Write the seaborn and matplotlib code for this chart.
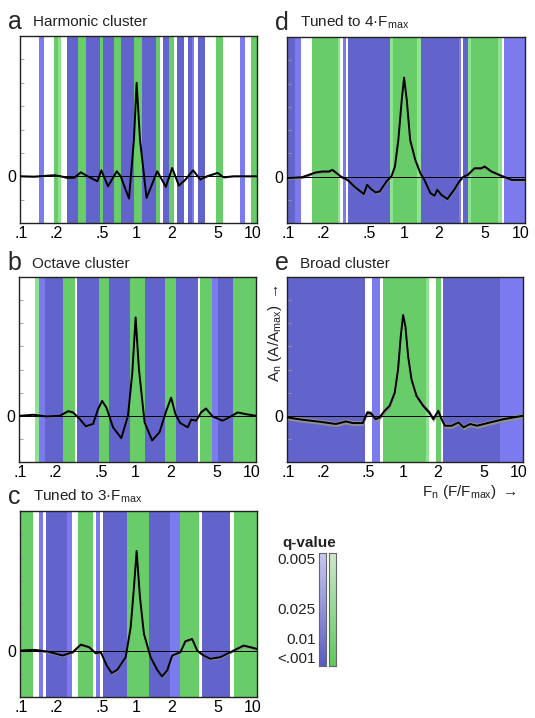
import numpy as np
import pandas as pd
import matplotlib
matplotlib.use("Agg")
import matplotlib.pyplot as plt
import seaborn as sns

# ---- data ----
# curves: frequency (F/Fmax) and normalised amplitude
a_freq = [0.1, 0.130, 0.194, 0.221, 0.252, 0.288, 0.329, 0.363, 0.401, 0.458, 0.495, 0.566,
          0.673, 0.728, 0.859, 0.948, 1.0, 1.069, 1.219, 1.507, 1.79, 2.03, 2.32, 2.64,
          3.08, 3.56, 4.06, 5.02, 5.66, 6.90, 11.0]
a_amp = [0.0, -0.003, 0.009, 0.0, -0.014, -0.014, 0.034, 0.009, -0.014, -0.043, 0.051, -0.086,
         0.043, 0.0, -0.191, 0.314, 0.80, 0.314, -0.186, 0.043, -0.091, 0.071, -0.08, -0.029,
         0.051, -0.029, 0.0, 0.029, -0.009, 0.0, 0.0]

b_freq = [0.1, 0.130, 0.170, 0.221, 0.261, 0.288, 0.329, 0.371, 0.429, 0.473, 0.513, 0.559,
          0.638, 0.752, 0.859, 0.936, 1.0, 1.069, 1.196, 1.392, 1.61, 1.84, 2.03, 2.21,
          2.43, 2.83, 3.02, 3.34, 3.68, 4.06, 4.64, 5.66, 6.46, 7.62, 9.0, 11.0]
b_amp = [0.0, 0.009, -0.006, 0.0, 0.04, 0.029, -0.029, -0.091, -0.071, 0.057, 0.129, 0.071,
         -0.1, -0.194, 0.0, 0.371, 0.851, 0.4, -0.057, -0.214, -0.143, 0.043, 0.157, 0.014,
         -0.063, -0.1, -0.034, -0.043, 0.029, 0.063, -0.006, -0.043, -0.014, 0.029, 0.014, 0.0]

c_freq = [0.1, 0.130, 0.170, 0.229, 0.279, 0.329, 0.388, 0.443, 0.490, 0.551, 0.609, 0.681,
          0.804, 0.888, 0.948, 1.0, 1.069, 1.157, 1.32, 1.507, 1.66, 1.84, 2.03, 2.39,
          2.64, 3.02, 3.34, 3.80, 4.34, 5.30, 6.90, 8.42, 9.6, 11.0]
c_amp = [0.0, 0.006, -0.009, -0.043, -0.014, 0.051, 0.029, -0.023, -0.014, -0.129, -0.194, -0.166,
         -0.057, 0.2, 0.543, 0.857, 0.457, 0.143, -0.057, -0.166, -0.223, -0.171, -0.043, -0.014,
         0.08, 0.1, 0.0, -0.043, -0.071, -0.057, 0.0, 0.043, 0.029, 0.014]

d_freq = [0.098, 0.132, 0.172, 0.197, 0.225, 0.241, 0.267, 0.285, 0.326, 0.373, 0.450, 0.481,
          0.521, 0.569, 0.617, 0.705, 0.780, 0.834, 0.892, 0.954, 1.0, 1.055, 1.128, 1.248,
          1.380, 1.496, 1.687, 1.83, 1.93, 2.09, 2.36, 2.70, 2.99, 3.19, 3.53, 4.04, 4.62,
          4.94, 5.65, 6.91, 8.45, 11.0]
d_amp = [-0.014, -0.006, 0.034, 0.043, 0.043, 0.057, 0.023, 0.0, -0.029, -0.086, -0.151, -0.071,
         -0.109, -0.137, -0.129, -0.043, 0.006, 0.086, 0.314, 0.657, 0.851, 0.657, 0.314, 0.143,
         0.029, -0.029, -0.143, -0.166, -0.114, -0.157, -0.194, -0.114, -0.043, -0.006, 0.014,
         0.071, 0.071, 0.086, 0.043, 0.006, -0.029, -0.029]

e_freq = [0.098, 0.133, 0.187, 0.261, 0.319, 0.365, 0.447, 0.488, 0.529, 0.577, 0.625, 0.691,
          0.764, 0.846, 0.904, 0.954, 1.0, 1.048, 1.106, 1.183, 1.308, 1.496, 1.687, 1.83,
          2.02, 2.16, 2.31, 2.65, 3.03, 3.35, 3.83, 4.38, 5.73, 7.49, 11.0]
e_amp = [-0.014, -0.034, -0.051, -0.071, -0.049, -0.063, -0.063, 0.029, 0.02, -0.029, -0.014, 0.043,
         0.086, 0.2, 0.4, 0.686, 0.871, 0.771, 0.514, 0.314, 0.171, 0.086, 0.029, -0.029,
         0.043, -0.029, -0.086, -0.086, -0.057, -0.1, -0.071, -0.086, -0.057, -0.029, 0.0]

# significance bands: (from, to, kind)  B/b = below, G/g = above (dark = smaller q)
a_bands = [(0.144, 0.157, 'b'), (0.191, 0.210, 'G'), (0.210, 0.221, 'g'), (0.252, 0.312, 'B'),
           (0.312, 0.363, 'G'), (0.363, 0.483, 'B'), (0.483, 0.516, 'G'), (0.516, 0.638, 'B'),
           (0.638, 0.728, 'G'), (0.728, 0.948, 'B'), (0.948, 1.119, 'G'), (1.119, 1.458, 'B'),
           (1.458, 1.589, 'G'), (1.698, 1.90, 'B'), (1.90, 2.10, 'G'), (2.24, 2.59, 'B'),
           (2.77, 3.02, 'B'), (3.02, 3.12, 'b'), (3.40, 3.93, 'B'), (4.89, 5.59, 'G'),
           (7.88, 8.59, 'b'), (9.74, 11.5, 'G')]
b_bands = [(0.135, 0.147, 'g'), (0.147, 0.164, 'b'), (0.164, 0.236, 'B'), (0.236, 0.298, 'G'),
           (0.312, 0.483, 'B'), (0.483, 0.589, 'G'), (0.589, 0.899, 'B'), (0.899, 1.196, 'G'),
           (1.196, 1.81, 'B'), (1.81, 2.24, 'G'), (2.24, 3.45, 'B'), (3.63, 4.55, 'G'),
           (4.55, 5.13, 'b'), (5.13, 6.90, 'B'), (6.90, 11.5, 'G')]
c_bands = [(0.09, 0.126, 'G'), (0.144, 0.154, 'b'), (0.164, 0.252, 'B'), (0.252, 0.275, 'b'),
           (0.312, 0.423, 'G'), (0.449, 0.480, 'b'), (0.513, 0.831, 'B'), (0.831, 1.277, 'G'),
           (1.277, 1.96, 'B'), (1.96, 2.39, 'b'), (2.39, 3.45, 'G'), (3.68, 6.46, 'B'),
           (6.90, 11.5, 'G')]
d_bands = [(0.09, 0.115, 'B'), (0.115, 0.130, 'b'), (0.161, 0.267, 'G'), (0.267, 0.279, 'g'),
           (0.299, 0.319, 'b'), (0.328, 0.755, 'B'), (0.755, 0.796, 'g'), (0.796, 1.291, 'G'),
           (1.291, 1.399, 'g'), (1.399, 2.99, 'B'), (2.99, 3.09, 'b'), (3.24, 3.53, 'B'),
           (3.53, 3.78, 'g'), (3.78, 6.46, 'G'), (6.46, 6.91, 'g'), (7.24, 11.5, 'b')]
e_bands = [(0.09, 0.471, 'B'), (0.539, 0.625, 'b'), (0.668, 1.578, 'G'), (1.578, 1.687, 'g'),
           (1.93, 2.12, 'G'), (2.24, 7.0, 'B'), (7.0, 11.5, 'b')]

sem = {'a': 0.006, 'b': 0.008, 'c': 0.012, 'd': 0.012, 'e': 0.022}

x_ticks = [0.1, 0.2, 0.5, 1, 2, 5, 10]
x_ticklabels = ['.1', '.2', '.5', '1', '2', '5', '10']
q_labels = ['0.005', '0.025', '0.01', '<.001']

band_colors = {'B': '#6363cc', 'b': '#7b7bef', 'G': '#68cd68', 'g': '#8ee48e'}

sns.set_theme(style="white")
plt.rcParams['font.family'] = ['Liberation Sans', 'DejaVu Sans']
plt.rcParams['mathtext.fontset'] = 'custom'
plt.rcParams['mathtext.rm'] = 'Liberation Sans'
plt.rcParams['mathtext.it'] = 'Liberation Sans'

fig = plt.figure(figsize=(5.35, 7.18), dpi=100)

panels = [
    ('a', 'Harmonic cluster', a_freq, a_amp, a_bands, [0.0374, 0.6894, 0.443, 0.2604]),
    ('b', 'Octave cluster', b_freq, b_amp, b_bands, [0.0355, 0.3565, 0.443, 0.2577]),
    ('c', r'Tuned to 3·F$_{\mathrm{max}}$', c_freq, c_amp, c_bands, [0.0374, 0.0292, 0.443, 0.259]),
    ('d', r'Tuned to 4·F$_{\mathrm{max}}$', d_freq, d_amp, d_bands, [0.5364, 0.6894, 0.4449, 0.259]),
    ('e', 'Broad cluster', e_freq, e_amp, e_bands, [0.5364, 0.3565, 0.4411, 0.2577]),
]

for letter, title, freq, amp, bands, pos in panels:
    ax = fig.add_axes(pos)
    for lo, hi, kind in bands:
        ax.axvspan(lo, hi, color=band_colors[kind], lw=0, zorder=0)
    df = pd.DataFrame({'F': freq, 'A': amp})
    ax.fill_between(df['F'], df['A'] - sem[letter], df['A'] + sem[letter],
                    color='#8f8f8f', lw=0, zorder=1)
    ax.axhline(0, color='black', lw=0.7, zorder=2)
    sns.lineplot(data=df, x='F', y='A', ax=ax, color='black', lw=1.4, zorder=3)
    ax.set_xscale('log')
    ax.set_xlim(0.098, 11.0)
    ax.set_ylim(-0.4, 1.2)
    ax.set_xticks(x_ticks)
    ax.set_xticklabels(x_ticklabels)
    ax.xaxis.set_minor_locator(matplotlib.ticker.NullLocator())
    ax.set_yticks(np.arange(-0.4, 1.21, 0.2))
    ax.set_yticklabels(['0' if abs(v) < 1e-9 else '' for v in np.arange(-0.4, 1.21, 0.2)])
    ax.tick_params(axis='x', length=0, labelsize=11.5, pad=2, colors='black')
    ax.tick_params(axis='y', direction='in', length=3, width=0.6, color='#999999',
                   labelsize=11.5, pad=3, labelcolor='black', left=True)
    ax.set_xlabel('')
    ax.set_ylabel('')
    for s in ax.spines.values():
        s.set_color('#222222')
        s.set_linewidth(1.0)
    ax.text(-0.05, 1.04, letter, transform=ax.transAxes, fontsize=18, va='baseline', ha='left')
    ax.text(0.055, 1.035, title, transform=ax.transAxes, fontsize=11, va='bottom', ha='left',
            color='#222222')
    if letter == 'e':
        ax.text(-0.05, 0.96, r'A$_n$ (A/A$_{\mathrm{max}}$) $\rightarrow$', transform=ax.transAxes,
                rotation=90, fontsize=11, ha='center', va='top', color='#222222')
        ax.text(0.975, -0.115, r'F$_n$ (F/F$_{\mathrm{max}}$) $\rightarrow$', transform=ax.transAxes,
                fontsize=11, ha='right', va='top', color='#222222')

# q-value legend: two gradient bars
grad = np.linspace(0, 1, 256).reshape(-1, 1)
cmap_blue = matplotlib.colors.LinearSegmentedColormap.from_list('qb', ['#cacaf2', '#5a5ac6'])
cmap_green = matplotlib.colors.LinearSegmentedColormap.from_list('qg', ['#cfe9cf', '#5ec85e'])
for x0, cm in [(319 / 535, cmap_blue), (328.5 / 535, cmap_green)]:
    cax = fig.add_axes([x0, 1 - 666 / 718, 7 / 535, 113 / 718])
    cax.imshow(grad, aspect='auto', cmap=cm)
    cax.set_xticks([])
    cax.set_yticks([])
    for s in cax.spines.values():
        s.set_color('#666666')
        s.set_linewidth(0.8)

fig.text(309 / 535, 1 - 543 / 718, 'q-value', fontsize=11, fontweight='bold', ha='center',
         va='center', color='#222222')
for lab, ypix in zip(q_labels, [560, 610, 640, 659]):
    fig.text(316 / 535, 1 - ypix / 718, lab, fontsize=11, ha='right', va='center', color='#222222')

fig.savefig('out.png', dpi=100)
